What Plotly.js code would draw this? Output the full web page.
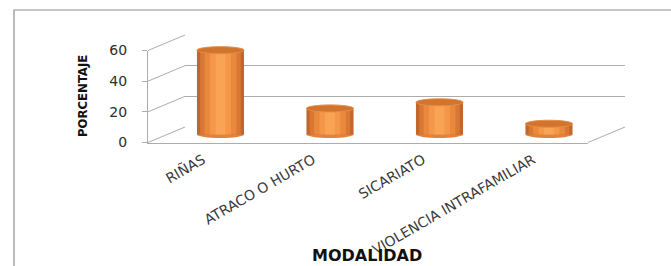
<!DOCTYPE html>
<html><head><meta charset="utf-8">
<script src="https://cdn.plot.ly/plotly-3.0.1.min.js"></script>
<style>html,body{margin:0;padding:0;background:#fff}</style></head>
<body>
<div id="chart" style="width:671px;height:266px"></div>
<script>
const categories = ['RIÑAS', 'ATRACO O HURTO', 'SICARIATO', 'VIOLENCIA INTRAFAMILIAR'];
const values = [55, 17, 21, 7];
const yTickVals = [0, 20, 40, 60];
const xTitle = 'MODALIDAD';
const yTitle = 'PORCENTAJE';

const W = 671, H = 266;
const px = x => x / W, py = y => 1 - y / H;
// 3D frame geometry (pixels): back wall, front face, and mid-depth plane for bars
const back  = {x0: 185, x1: 625, y0: 127, y60: 35};
const front = {x0: 148, x1: 588, y0: 142.5, y60: 50.5};
const mid   = {x0: 165.75, x1: 603.75, y0: 134.5, scale: 1.533};
const midRange = [-6, 66];
const yAt = (f, v) => f.y0 + (f.y60 - f.y0) * v / 60;

const idx = categories.map((c, i) => i);
const barW = 0.43;
const shades = [
  {w: 0.43, c: '#C3662B'},
  {w: 0.37, c: '#D97834'},
  {w: 0.29, c: '#EA883E'},
  {w: 0.19, c: '#F59749'},
  {w: 0.09, c: '#F9A355'}
];
const traces = shades.map(s => ({
  type: 'bar', x: idx, y: values, width: idx.map(() => s.w),
  xaxis: 'x2', yaxis: 'y2', marker: {color: s.c, line: {width: 0}},
  hoverinfo: 'skip', showlegend: false
}));
traces.unshift({type: 'scatter', x: [0], y: [0], mode: 'markers', marker: {opacity: 0}, xaxis: 'x', yaxis: 'y', hoverinfo: 'skip', showlegend: false});
traces.push({type: 'scatter', x: [categories[0]], y: [0], mode: 'markers', marker: {opacity: 0}, xaxis: 'x3', yaxis: 'y3', hoverinfo: 'skip', showlegend: false});

const ell = 2.3;
const shapes = [];
const gridColor = '#ADADAD';
yTickVals.forEach(v => {
  shapes.push({type: 'line', xref: 'paper', yref: 'paper', layer: 'below',
    x0: px(front.x0), y0: py(yAt(front, v)), x1: px(back.x0), y1: py(yAt(back, v)),
    line: {color: gridColor, width: 1}});
});
shapes.push({type: 'line', xref: 'paper', yref: 'paper', layer: 'below',
  x0: px(front.x1), y0: py(front.y0), x1: px(back.x1), y1: py(back.y0),
  line: {color: gridColor, width: 1}});
idx.forEach((i) => {
  shapes.push({type: 'circle', xref: 'x2', yref: 'y2', layer: 'below',
    x0: i - barW / 2, x1: i + barW / 2, y0: -ell, y1: ell,
    fillcolor: '#E3823A', line: {width: 0}});
  shapes.push({type: 'circle', xref: 'x2', yref: 'y2', layer: 'above',
    x0: i - barW / 2, x1: i + barW / 2, y0: values[i] - ell, y1: values[i] + ell,
    fillcolor: '#D0742E', line: {color: '#E68D47', width: 1}});
});
shapes.push({type: 'rect', xref: 'paper', yref: 'paper', layer: 'below',
  x0: px(14), x1: px(700), y0: py(10), y1: py(300), line: {color: '#8E8E8E', width: 1.2}});

const layout = {
  width: W, height: H, margin: {l: 0, r: 0, t: 0, b: 0},
  paper_bgcolor: '#fff', plot_bgcolor: 'rgba(0,0,0,0)',
  barmode: 'overlay', showlegend: false,
  xaxis: {domain: [px(back.x0), px(back.x1)], range: [0, 1], showgrid: false, zeroline: false, showticklabels: false, showline: false, fixedrange: true},
  yaxis: {domain: [py(back.y0), py(back.y60)], range: [0, 60], tickvals: yTickVals, showgrid: true, gridcolor: gridColor, gridwidth: 1, zeroline: false, showticklabels: false, showline: false, fixedrange: true},
  xaxis2: {domain: [px(mid.x0), px(mid.x1)], range: [-0.5, 3.5], anchor: 'y2', visible: false, fixedrange: true},
  yaxis2: {domain: [py(mid.y0 - midRange[0] * mid.scale), py(mid.y0 - midRange[1] * mid.scale)], range: midRange, anchor: 'x2', visible: false, fixedrange: true},
  xaxis3: {domain: [px(front.x0), px(front.x1)], type: 'category', categoryarray: categories, categoryorder: 'array',
    range: [-0.5, 3.5], anchor: 'y3', showline: true, linecolor: gridColor, linewidth: 1, showgrid: false, zeroline: false,
    ticks: '', tickangle: -30, ticklabelstandoff: 3, tickfont: {family: 'DejaVu Sans', size: 14, color: '#3A3A3A'}, fixedrange: true},
  yaxis3: {domain: [py(front.y0), py(front.y60)], range: [0, 60], tickvals: yTickVals, anchor: 'x3',
    showline: true, linecolor: gridColor, linewidth: 1, showgrid: false, zeroline: false,
    ticks: 'outside', ticklen: 5, tickcolor: gridColor, ticklabelstandoff: 12,
    tickfont: {family: 'DejaVu Sans', size: 14, color: '#2E2E2E'}, fixedrange: true},
  shapes: shapes,
  annotations: [
    {text: '<b>' + yTitle + '</b>', xref: 'paper', yref: 'paper', x: px(82), y: py(96), xanchor: 'center', yanchor: 'middle', textangle: -90,
      showarrow: false, font: {family: 'Liberation Sans Narrow, DejaVu Sans Condensed, Arial Narrow, sans-serif', size: 13, color: '#111'}},
    {text: '<b>' + xTitle + '</b>', xref: 'paper', yref: 'paper', x: px(367), y: py(255), xanchor: 'center', yanchor: 'middle',
      showarrow: false, font: {family: 'DejaVu Sans', size: 16, color: '#111'}}
  ]
};

Plotly.newPlot('chart', traces, layout, {staticPlot: true, displayModeBar: false});
</script>
</body></html>
